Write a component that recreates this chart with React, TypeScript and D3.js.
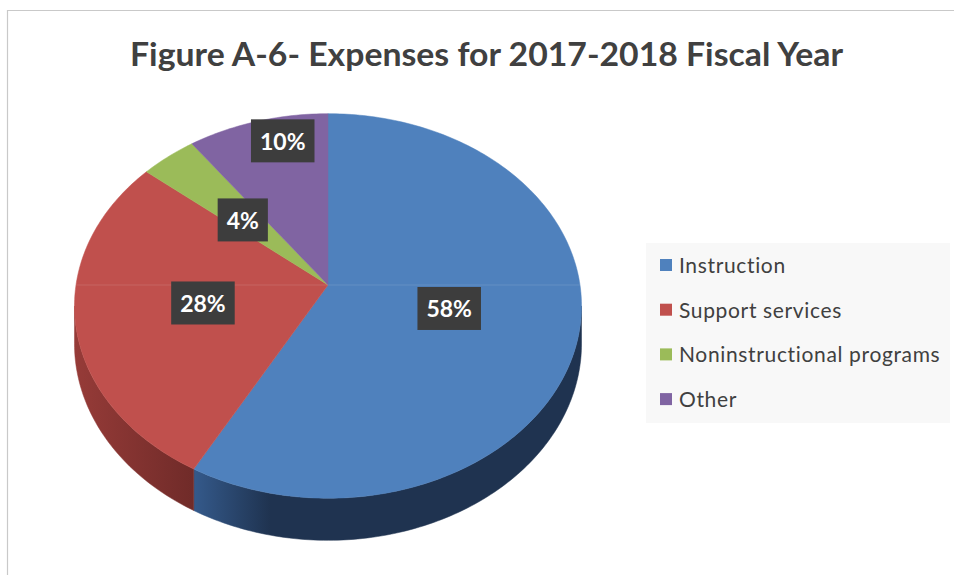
import React, { useEffect, useRef } from "react";
import * as d3 from "d3";

const categories = ["Instruction", "Support services", "Noninstructional programs", "Other"];
const values = [58, 28, 4, 10];
const labels = ["58%", "28%", "4%", "10%"];
const topColors = ["#4f81bd", "#c0504d", "#9bbb59", "#8064a2"];
const sideColorsLight = ["#34598a", "#963b38", "#7a9a40", "#64497f"];
const sideColorsDark = ["#1f3350", "#6e2a28", "#5a7530", "#4a3560"];
// label placement (fraction within slice, radial factor)
const labelFrac = [0.5, 0.5, 0.4, 0.63];
const labelRad = [0.49, 0.5, 0.5, 0.85];

const W = 954;
const H = 575;

export default function App() {
  const ref = useRef<SVGSVGElement>(null);

  useEffect(() => {
    const svg = d3.select(ref.current);
    svg.selectAll("*").remove();

    const cx = 328, cy = 285, R = 252, Ry = 190, k = 0.109, depth = 37.5;
    const proj = (theta: number, r: number, dz = 0): [number, number] => {
      const X = Math.sin(theta) * r;
      const u = -Math.cos(theta) * r;
      const w = 1 / (1 - k * u);
      return [cx + R * X * w, cy + Ry * u * w + dz * w];
    };

    const pie = d3.pie<number>().sort(null).value((d) => d);
    const arcs = pie(values);

    const defs = svg.append("defs");
    arcs.forEach((a, i) => {
      const g = defs.append("linearGradient")
        .attr("id", "side" + i)
        .attr("gradientUnits", "userSpaceOnUse")
        .attr("x1", i === 0 ? 195 : 75).attr("x2", i === 0 ? 270 : 200)
        .attr("y1", 0).attr("y2", 0);
      g.append("stop").attr("offset", 0).attr("stop-color", sideColorsLight[i]);
      g.append("stop").attr("offset", 1).attr("stop-color", sideColorsDark[i]);
    });

    // frame
    svg.append("path")
      .attr("d", `M7.5,${H} L7.5,10.5 L${W},10.5`)
      .attr("fill", "none").attr("stroke", "#c9c9c9").attr("stroke-width", 1.2);

    // title
    svg.append("text")
      .attr("x", 130).attr("y", 66)
      .attr("textLength", 713).attr("lengthAdjust", "spacingAndGlyphs")
      .attr("font-family", "Lato, 'Open Sans', sans-serif")
      .attr("font-weight", 700).attr("font-size", 33)
      .attr("fill", "#404040")
      .text("Figure A-6- Expenses for 2017-2018 Fiscal Year");

    const line = d3.line<[number, number]>();
    const sample = (a0: number, a1: number, r: number, dz = 0) => {
      const n = Math.max(2, Math.ceil(((a1 - a0) * 180) / Math.PI));
      return d3.range(n + 1).map((j) => proj(a0 + ((a1 - a0) * j) / n, r, dz));
    };

    const tR = Math.acos(-k);
    const tL = 2 * Math.PI - Math.acos(-k);

    // sides
    arcs.forEach((a, i) => {
      const s0 = Math.max(a.startAngle, tR);
      const s1 = Math.min(a.endAngle, tL);
      if (s0 >= s1) return;
      const top = sample(s0, s1, 1);
      const bot = sample(s0, s1, 1, depth).reverse();
      svg.append("path")
        .attr("d", line([...top, ...bot]) + "Z")
        .attr("fill", `url(#side${i})`)
        .attr("stroke", `url(#side${i})`).attr("stroke-width", 0.5);
    });

    // top faces
    arcs.forEach((a, i) => {
      const pts = [proj(0, 0), ...sample(a.startAngle, a.endAngle, 1)];
      svg.append("path")
        .attr("d", line(pts) + "Z")
        .attr("fill", topColors[i])
        .attr("stroke", topColors[i]).attr("stroke-width", 0.5);
    });

    // faint center line
    const pL = proj(-Math.PI / 2, 1);
    const pR = proj(Math.PI / 2, 1);
    svg.append("line")
      .attr("x1", pL[0]).attr("x2", pR[0]).attr("y1", pL[1]).attr("y2", pR[1])
      .attr("stroke", "#ffffff").attr("stroke-opacity", 0.12).attr("stroke-width", 1);

    // labels
    arcs.forEach((a, i) => {
      const t = a.startAngle + (a.endAngle - a.startAngle) * labelFrac[i];
      const [lx, ly] = proj(t, labelRad[i]);
      const g = svg.append("g");
      const txt = g.append("text")
        .attr("x", lx).attr("y", ly)
        .attr("text-anchor", "middle").attr("dominant-baseline", "central")
        .attr("font-family", "Lato, 'Open Sans', sans-serif")
        .attr("font-weight", 700).attr("font-size", 23)
        .attr("fill", "#ffffff")
        .text(labels[i]);
      const bb = (txt.node() as SVGTextElement).getBBox();
      g.insert("rect", "text")
        .attr("x", lx - bb.width / 2 - 9).attr("y", ly - 21.5)
        .attr("width", bb.width + 18).attr("height", 43)
        .attr("fill", "#3d3d3d");
    });

    // legend
    svg.append("rect")
      .attr("x", 646).attr("y", 243).attr("width", 304).attr("height", 180)
      .attr("fill", "#f8f8f8");
    const ly0 = 265, step = 44.7;
    categories.forEach((c, i) => {
      const y = ly0 + i * step;
      svg.append("rect")
        .attr("x", 660).attr("y", y - 6).attr("width", 12).attr("height", 12)
        .attr("fill", topColors[i]);
      svg.append("text")
        .attr("x", 679).attr("y", y + 8)
        .attr("font-family", "Lato, 'Open Sans', sans-serif")
        .attr("font-size", 21).attr("fill", "#404040")
        .attr("letter-spacing", 0.65)
        .text(c);
    });
  }, []);

  return (
    <svg
      ref={ref}
      width={W}
      height={H}
      style={{ position: "absolute", left: 0, top: 0, background: "#ffffff" }}
    />
  );
}
